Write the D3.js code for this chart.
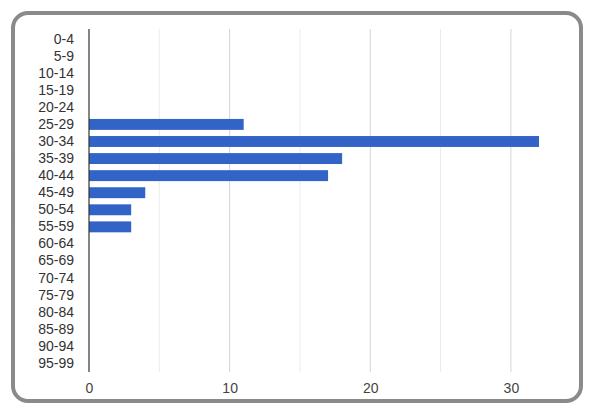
<!DOCTYPE html>
<html><head><meta charset="utf-8">
<script src="https://cdn.jsdelivr.net/npm/d3@7"></script>
<style>html,body{margin:0;padding:0;background:#fff;}svg{display:block;}</style>
</head><body>
<script>
const categories = ["0-4","5-9","10-14","15-19","20-24","25-29","30-34","35-39","40-44","45-49","50-54","55-59","60-64","65-69","70-74","75-79","80-84","85-89","90-94","95-99"];
const values = [0,0,0,0,0,11,32,18,17,4,3,3,0,0,0,0,0,0,0,0];
const xTicks = [0,10,20,30];
const gridTicks = [5,10,15,20,25,30];

const W = 592, H = 404;
const svg = d3.select("body").append("svg").attr("width", W).attr("height", H);

svg.append("rect").attr("x", 13).attr("y", 13).attr("width", 568).attr("height", 388)
  .attr("rx", 15).attr("ry", 15).attr("fill", "#fff").attr("stroke", "#8a8a8a").attr("stroke-width", 4);

const x = d3.scaleLinear().domain([0, 32]).range([89, 539]);
const y = d3.scaleBand().domain(categories).range([30.5, 372]).paddingInner(0.36).paddingOuter(0.18);

svg.append("g").selectAll("line").data(gridTicks).join("line")
  .attr("x1", d => x(d)).attr("x2", d => x(d)).attr("y1", 29).attr("y2", 372)
  .attr("stroke", d => d % 10 === 0 ? "#d4d4d4" : "#ebebeb").attr("stroke-width", 1);

svg.append("g").selectAll("rect").data(values).join("rect")
  .attr("x", x(0)).attr("y", (d, i) => y(categories[i]))
  .attr("width", d => x(d) - x(0)).attr("height", y.bandwidth())
  .attr("fill", "#3264c8");

const yAxis = d3.axisLeft(y).tickSize(0).tickPadding(15);
const gy = svg.append("g").attr("transform", `translate(${x(0)},0)`).call(yAxis);
gy.select(".domain").remove();
gy.selectAll("text").attr("font-family", "Liberation Sans, Arial, sans-serif").attr("font-size", 14).attr("fill", "#333");

svg.append("line").attr("x1", x(0)).attr("x2", x(0)).attr("y1", 29).attr("y2", 372)
  .attr("stroke", "#333").attr("stroke-width", 1.2);

const xAxis = d3.axisBottom(x).tickValues(xTicks).tickSize(0).tickPadding(11);
const gx = svg.append("g").attr("transform", `translate(0,372)`).call(xAxis);
gx.select(".domain").remove();
gx.selectAll("text").attr("font-family", "Liberation Sans, Arial, sans-serif").attr("font-size", 14).attr("fill", "#444");
</script>
</body></html>
